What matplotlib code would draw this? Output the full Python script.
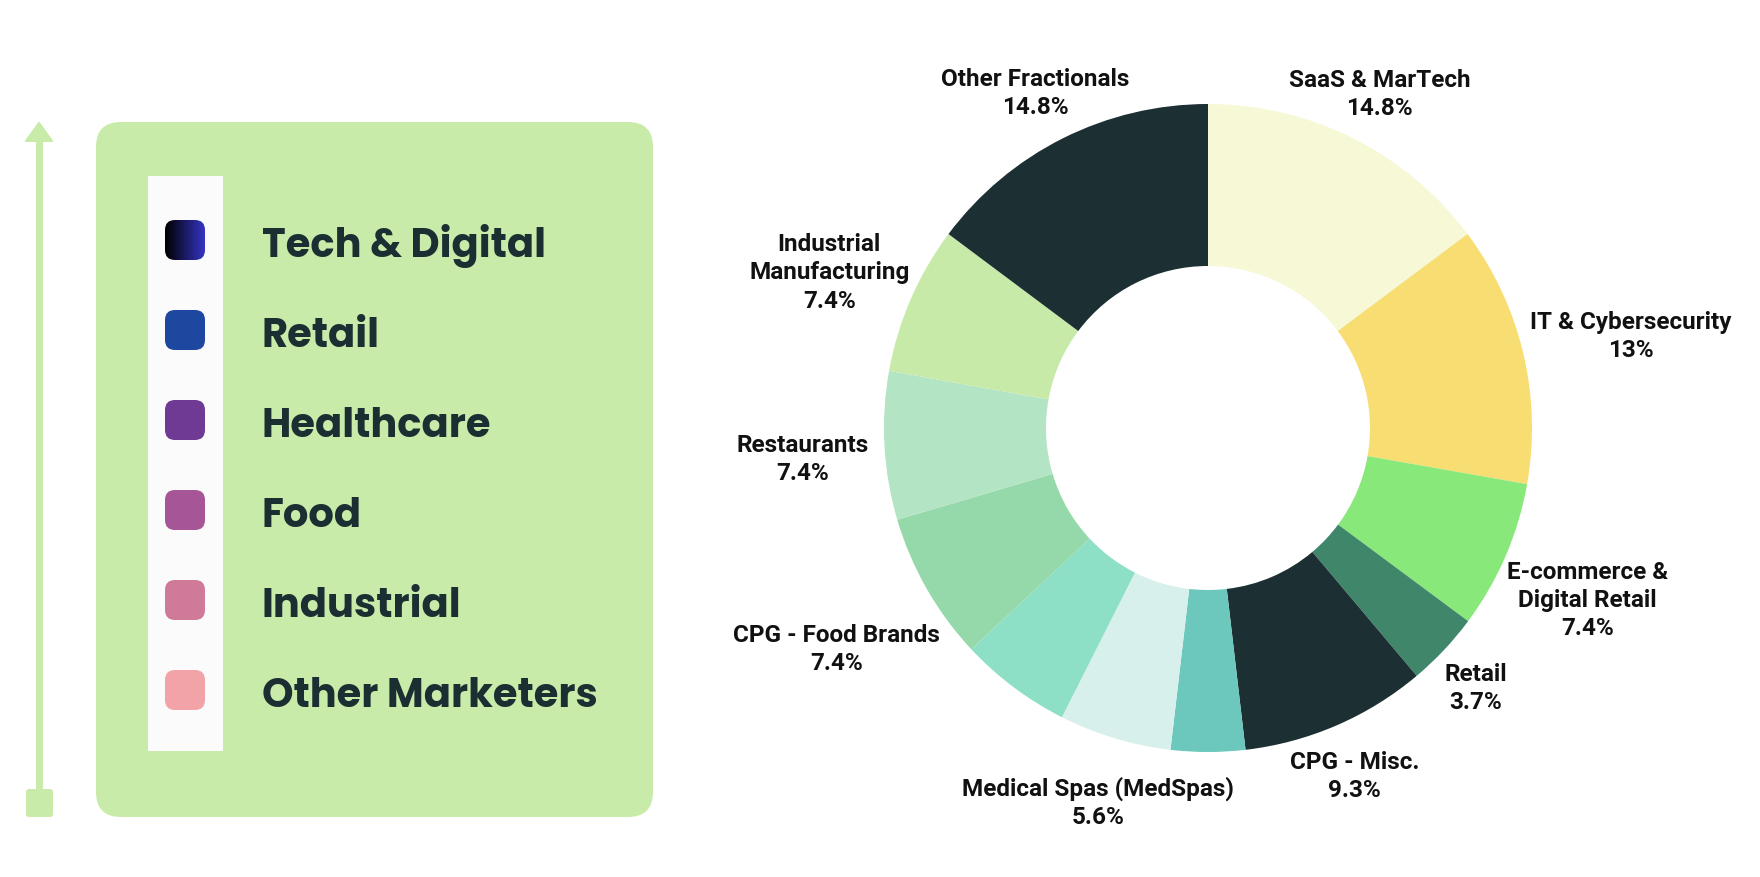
import numpy as np
import matplotlib
matplotlib.use('Agg')
import matplotlib.pyplot as plt
from matplotlib import font_manager
from matplotlib.patches import FancyBboxPatch, Polygon, Rectangle


SEGMENTS = ['SaaS & MarTech', 'IT & Cybersecurity', 'E-commerce &\nDigital Retail', 'Retail',
            'CPG - Misc.', '', 'Medical Spas (MedSpas)', '', 'CPG - Food Brands',
            'Restaurants', 'Industrial\nManufacturing', 'Other Fractionals']
SHARES = [14.8, 13.0, 7.4, 3.7, 9.3, 3.7, 5.6, 5.6, 7.4, 7.4, 7.4, 14.8]
SEGMENT_COLORS = ['#f7f8d6', '#f8dd72', '#88e87a', '#3f866a', '#1c2f33', '#6cc8bd',
                  '#d8f0ec', '#8ddfc6', '#95d9aa', '#b3e4c3', '#c8eaa8', '#1c2f33']

GROUPS = ['Tech & Digital', 'Retail', 'Healthcare', 'Food', 'Industrial', 'Other Marketers']
GROUP_COLORS = [('#000000', '#3434c4'), '#1e48a0', '#6f3a93', '#a65597', '#d07a9a', '#f2a3a8']

installed = {f.name for f in font_manager.fontManager.ttflist}
LABEL_FONT = next((f for f in ['Roboto', 'Liberation Sans', 'DejaVu Sans']
                   if f in installed), 'DejaVu Sans')
LEGEND_FONT = next((f for f in ['Poppins', 'Inter', 'Lato', 'Roboto']
                    if f in installed), 'DejaVu Sans')

W, H, DPI = 1760, 878, 100
fig = plt.figure(figsize=(W / DPI, H / DPI), dpi=DPI)
fig.patch.set_facecolor('white')

# background axes in pixel coordinates (y down)
bg = fig.add_axes([0, 0, 1, 1])
bg.set_axis_off()

panel_green = '#c8eba9'
bg.add_patch(FancyBboxPatch((96, 123), 557, 695, boxstyle='round,pad=0,rounding_size=25',
                            fc=panel_green, ec='none'))
bg.add_patch(Rectangle((148, 177), 75, 575, fc='#fbfbfb', ec='none'))

# arrow on the far left
bg.plot([39, 39], [140, 792], color=panel_green, lw=5, solid_capstyle='butt')
bg.add_patch(Polygon([(39, 124), (26, 142), (52, 142)], closed=True, fc=panel_green,
                     ec=panel_green, lw=1.5, joinstyle='round'))
bg.add_patch(FancyBboxPatch((26, 790), 27, 28, boxstyle='round,pad=0,rounding_size=3',
                            fc=panel_green, ec='none'))

for i, (name, col) in enumerate(zip(GROUPS, GROUP_COLORS)):
    cy = 241 + 90 * i
    sw = FancyBboxPatch((165, cy - 20), 40, 40, boxstyle='round,pad=0,rounding_size=10',
                        fc=col if isinstance(col, str) else 'none', ec='none', zorder=2)
    bg.add_patch(sw)
    if not isinstance(col, str):
        cmap = matplotlib.colors.LinearSegmentedColormap.from_list('grad', list(col))
        im = bg.imshow(np.linspace(0, 1, 64).reshape(1, -1), cmap=cmap, aspect='auto',
                       extent=[165, 205, cy + 20, cy - 20], interpolation='bilinear', zorder=3)
        im.set_clip_path(sw)
    bg.text(262, cy + 16, name, fontsize=28.8, fontweight='bold', family=LEGEND_FONT,
            color='#1b2e31', va='baseline', ha='left')
bg.set_xlim(0, W)
bg.set_ylim(H, 0)

# donut axes: 1 data unit = 324 px, centred at (1208, 429)
R_PX, CX, CY, L = 324, 1208, 429, 1.7
ax = fig.add_axes([(CX - L * R_PX) / W, (H - CY - L * R_PX) / H, 2 * L * R_PX / W, 2 * L * R_PX / H])
wedges, _ = ax.pie(SHARES, colors=SEGMENT_COLORS, startangle=90, counterclock=False,
                   radius=1, wedgeprops=dict(width=0.5, linewidth=0, antialiased=True))
ax.set_xlim(-L, L)
ax.set_ylim(-L, L)
ax.set_axis_off()

labels = []
for w, name, share in zip(wedges, SEGMENTS, SHARES):
    if not name:
        continue
    t = ax.text(0, 0, f'{name}\n{share:g}%', ha='center', va='center', fontsize=17.5,
                fontweight='bold', family=LABEL_FONT, color='#111111',
                linespacing=1.3, multialignment='center')
    labels.append((w, t))

fig.canvas.draw()
renderer = fig.canvas.get_renderer()
for w, t in labels:
    mid = np.deg2rad((w.theta1 + w.theta2) / 2)
    hw = t.get_window_extent(renderer).width / 2 / R_PX
    dist = 1.07 + 0.9 * hw * abs(np.cos(mid))
    t.set_position((dist * np.cos(mid), dist * np.sin(mid) - 0.025))

fig.savefig('out.png', dpi=DPI, facecolor='white')
